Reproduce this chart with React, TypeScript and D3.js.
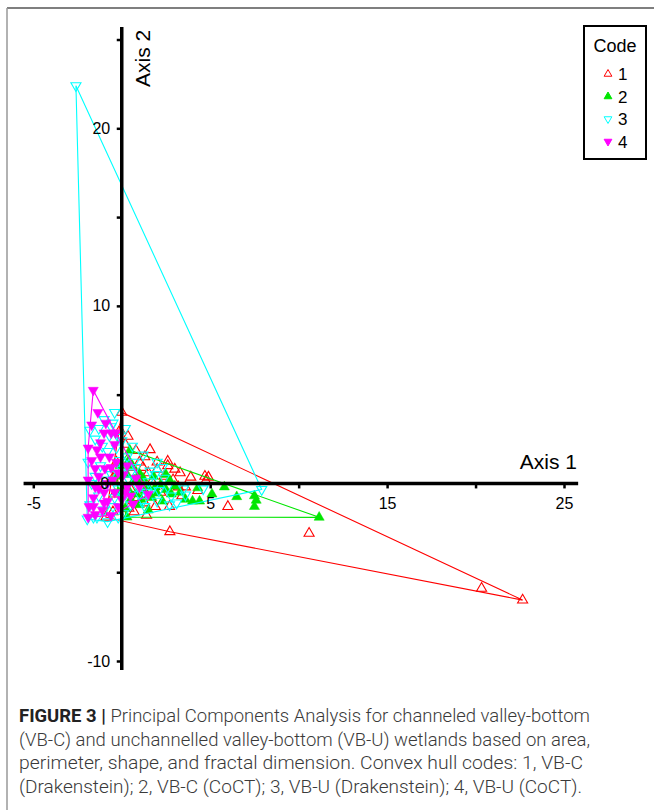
import * as d3 from 'd3';
import React, { useEffect, useRef } from 'react';

// PCA scores (Axis 1, Axis 2)
const code1Points: [number, number][] = [
  [0.0, 4.0], [0.35, 2.65], [0.8, 1.85], [1.3, 1.5], [2.0, 1.2], [2.6, 1.0], [2.6, 1.25],
  [3.0, 0.8], [3.3, 0.6], [3.9, 0.35], [4.7, 0.4], [4.9, 0.35], [4.75, 0.15], [3.6, -0.2],
  [2.4, 0.4], [1.5, 0.6], [1.9, -1.3], [2.7, -1.3], [6.0, -1.3], [2.72, -2.72], [10.59, -2.81],
  [20.34, -5.91], [22.66, -6.57], [0.6, 0.9], [1.1, 0.3], [1.7, 0.1], [2.2, -0.5], [0.9, -0.8],
  [0.4, -1.4], [-0.3, 1.2], [-0.5, 0.3], [-0.9, -1.9], [-0.5, -1.6], [1.4, -1.8], [0.2, 2.2],
  [-0.1, 3.0], [1.0, 1.2], [3.4, -0.7], [4.3, -0.4], [2.9, 0.2], [1.6, 1.9], [0.5, -0.3], [-0.4, -0.6],
  [1.2, 0.9], [2.0, 0.8], [3.2, -0.2], [1.3, -1.1], [0.7, -1.6],
];

const code2Points: [number, number][] = [
  [0.46, 1.87], [11.16, -1.91], [0.3, -1.9], [7.5, -0.7], [7.5, -1.3], [7.6, -0.95], [6.5, -0.75],
  [5.8, -0.2], [4.3, -0.25], [4.0, -1.0], [4.4, -1.0], [3.0, -0.15], [2.5, -0.35], [2.0, -0.55],
  [1.5, -0.2], [1.2, 0.3], [0.8, -0.6], [1.0, -1.2], [0.5, -0.9], [1.7, -0.8], [2.2, -0.05],
  [0.3, 0.5], [0.6, 1.0], [1.0, 0.55], [-0.2, -0.5], [-0.3, 0.4], [0.2, -1.4], [1.5, -1.5],
  [2.3, -1.0], [3.3, -0.5], [0.9, 0.1], [0.1, -0.2], [1.8, 0.4], [2.7, 0.2], [0.4, 1.3],
  [-0.1, 1.0], [3.6, -0.9], [5.1, -0.6], [0.7, 0.2], [1.3, -0.4], [2.8, -0.6], [0.4, -0.4],
  [1.9, -0.2], [1.1, -0.9], [2.5, 0.5],
];

const code3Points: [number, number][] = [
  [-2.59, 22.4], [7.91, -0.34], [-1.95, -2.0], [-0.8, -2.15], [-0.4, 4.0], [-0.5, 3.4], [-0.2, 2.6],
  [2.0, 1.2], [2.3, 0.9], [3.5, -0.3], [4.6, -0.3], [2.8, -0.7], [2.7, -1.2], [2.0, -1.0],
  [3.6, -0.65], [1.4, -0.5], [0.1, -1.7], [-1.6, -1.9], [-1.2, 1.0], [-1.5, 2.5], [-1.0, 3.6],
  [-0.8, 1.8], [-1.7, 0.0], [-1.3, -0.7], [-0.6, 0.5], [-0.2, -0.3], [0.4, 0.2], [0.8, 0.9],
  [1.2, 1.6], [0.3, 1.5], [-0.3, 2.0], [1.5, 0.1], [1.0, -0.6], [0.5, -1.2], [-0.5, -1.3],
  [-1.0, -1.5], [-1.8, -1.2], [-1.9, 1.2], [-1.8, 3.0], [-1.3, 3.1], [0.2, 3.1], [-0.7, 2.7],
  [0.6, 2.1], [1.8, -0.2], [2.4, 0.3], [-1.4, -1.9], [0.0, 0.8], [-0.9, 0.2], [1.2, -1.0],
  [3.1, -1.1], [-0.2, -1.9], [0.7, 1.2], [1.6, 0.7], [2.1, -0.4], [0.9, -0.2], [1.3, -1.3],
  [0.2, -0.6], [-0.1, 1.3], [0.5, 0.6], [1.9, 0.5], [2.6, -0.2], [-0.4, -0.8], [-1.1, -0.2],
  [-1.5, 0.4], [-1.1, 2.1], [0.0, 2.4], [-0.6, 3.2],
];

const code4Points: [number, number][] = [
  [-1.61, 5.25], [-1.35, 4.0], [-1.9, 2.0], [-1.0, 2.85], [-0.6, 2.85], [-0.35, 2.85], [-1.5, 0.85],
  [-0.95, 0.85], [-0.5, 0.2], [-1.85, -1.3], [-1.1, -1.5], [0.65, -1.15], [-1.9, -1.9], [-1.5, -1.75],
  [-1.2, 1.5], [-0.7, 1.5], [-1.7, 1.3], [-1.3, -0.3], [-0.4, -0.5], [0.3, -0.2], [0.8, 0.3],
  [-0.8, -1.0], [-1.6, -0.8], [-1.9, 0.2], [0.3, 1.0], [1.0, -0.2], [-0.2, -1.3], [-0.6, -1.8],
  [0.1, 0.5], [-1.2, 2.3], [-0.4, 2.2], [-1.5, -0.2], [-0.8, 0.0], [0.5, -0.7], [-1.7, 3.3],
  [1.5, -0.6], [-1.0, -0.5], [0.0, -0.9], [-1.3, 0.4], [-0.3, 1.2], [-0.9, 3.4], [-1.4, 1.9],
  [-0.6, 0.9], [0.2, -0.5], [-1.0, -1.1], [-1.6, -1.3], [-0.2, 0.6],
];

const codeNames = ['1', '2', '3', '4'];
const codeColors = ['#ff0000', '#00e600', '#00ffff', '#ff00ff'];

const xTicks = [-5, 0, 5, 10, 15, 20, 25];
const xTickLabels = [-5, 5, 15, 25];
const yTicks = [-10, -5, 0, 5, 10, 15, 20, 25];
const yTickLabels = [-10, 10, 20];

const captionLines = [
  'Principal Components Analysis for channeled valley-bottom',
  '(VB-C) and unchannelled valley-bottom (VB-U) wetlands based on area,',
  'perimeter, shape, and fractal dimension. Convex hull codes: 1, VB-C',
  '(Drakenstein); 2, VB-C (CoCT); 3, VB-U (Drakenstein); 4, VB-U (CoCT).',
];

export default function App() {
  const ref = useRef<SVGSVGElement>(null);

  useEffect(() => {
    const width = 654;
    const height = 810;
    const svg = d3.select(ref.current).attr('width', width).attr('height', height);
    svg.selectAll('*').remove();

    const font = "'Liberation Sans', Arial, sans-serif";

    // page frame
    svg.append('line').attr('x1', 7).attr('x2', width).attr('y1', 8).attr('y2', 8)
      .attr('stroke', '#555').attr('stroke-width', 1.5);
    svg.append('line').attr('x1', 7).attr('x2', 7).attr('y1', 8).attr('y2', height)
      .attr('stroke', '#999').attr('stroke-width', 1.5);

    const x = d3.scaleLinear().domain([-5, 25]).range([33.3, 564]);
    const y = d3.scaleLinear().domain([-10, 20]).range([661, 128.3]);

    const series = [code1Points, code2Points, code3Points, code4Points];
    const filled = [false, true, false, true];
    const down = [false, false, true, true];

    const sym = d3.symbol().type(d3.symbolTriangle);

    // hulls + points
    series.forEach((pts, i) => {
      const g = svg.append('g');
      const scaled = pts.map((p) => [x(p[0]), y(p[1])] as [number, number]);
      const hull = d3.polygonHull(scaled);
      if (hull) {
        g.append('path')
          .attr('d', 'M' + hull.map((p) => p.join(',')).join('L') + 'Z')
          .attr('fill', 'none')
          .attr('stroke', codeColors[i])
          .attr('stroke-width', 1.1);
      }
      g.selectAll('path.pt')
        .data(scaled)
        .enter()
        .append('path')
        .attr('class', 'pt')
        .attr('d', sym.size(44)())
        .attr('transform', (d) => `translate(${d[0]},${d[1]})${down[i] ? ' rotate(180)' : ''}`)
        .attr('fill', filled[i] ? codeColors[i] : 'none')
        .attr('stroke', codeColors[i])
        .attr('stroke-width', filled[i] ? 0.5 : 1.1);
    });

    // axes
    const x0 = y(0);
    const y0 = x(0);

    const xg = svg.append('g').attr('transform', `translate(0,${x0})`)
      .call(d3.axisBottom(x).tickValues(xTicks).tickSize(5).tickPadding(9.5)
        .tickFormat((d) => (xTickLabels.includes(d as number) ? String(d) : '')));
    xg.select('.domain').remove();
    xg.selectAll('line').attr('stroke', '#000').attr('stroke-width', 2.5);
    xg.selectAll('text').attr('font-family', font).attr('font-size', 16).attr('fill', '#000');

    const yg = svg.append('g').attr('transform', `translate(${y0},0)`)
      .call(d3.axisLeft(y).tickValues(yTicks).tickSize(5).tickPadding(6.5)
        .tickFormat((d) => (yTickLabels.includes(d as number) ? String(d) : '')));
    yg.select('.domain').remove();
    yg.selectAll('line').attr('stroke', '#000').attr('stroke-width', 2.5);
    yg.selectAll('text').attr('font-family', font).attr('font-size', 16).attr('fill', '#000');

    svg.append('line')
      .attr('x1', x(-5.55)).attr('x2', x(25.8)).attr('y1', x0).attr('y2', x0)
      .attr('stroke', '#000').attr('stroke-width', 3.5);
    svg.append('line')
      .attr('x1', y0).attr('x2', y0).attr('y1', y(25.7)).attr('y2', y(-10.5))
      .attr('stroke', '#000').attr('stroke-width', 3.5);

    svg.append('text')
      .attr('x', y0 - 12.5).attr('y', x0).attr('dy', '0.34em')
      .attr('text-anchor', 'end').attr('font-family', font).attr('font-size', 16)
      .text('0');

    svg.append('text')
      .attr('x', 577).attr('y', 469).attr('text-anchor', 'end')
      .attr('font-family', font).attr('font-size', 21).text('Axis 1');
    svg.append('text')
      .attr('transform', 'translate(150,87) rotate(-90)')
      .attr('font-family', font).attr('font-size', 21).text('Axis 2');

    // legend
    const lg = svg.append('g');
    lg.append('rect').attr('x', 584).attr('y', 26).attr('width', 62).attr('height', 133)
      .attr('fill', '#fff').attr('stroke', '#000').attr('stroke-width', 2);
    lg.append('text').attr('x', 615).attr('y', 52).attr('text-anchor', 'middle')
      .attr('font-family', font).attr('font-size', 18).text('Code');
    codeNames.forEach((name, i) => {
      const cy = 74 + i * 22.5;
      lg.append('path')
        .attr('d', sym.size(26)())
        .attr('transform', `translate(608,${cy})${down[i] ? ' rotate(180)' : ''}`)
        .attr('fill', filled[i] ? codeColors[i] : 'none')
        .attr('stroke', codeColors[i])
        .attr('stroke-width', 1);
      lg.append('text').attr('x', 618).attr('y', cy).attr('dy', '0.36em')
        .attr('font-family', font).attr('font-size', 17).text(name);
    });

    // caption
    const cap = svg.append('g').attr('font-family', "Roboto, 'Liberation Sans', sans-serif")
      .attr('font-size', 19).attr('fill', '#3a3a3a');
    const lens = [571, 571, 564, 563];
    captionLines.forEach((line, i) => {
      const t = cap.append('text').attr('x', 19).attr('y', 722 + i * 23.5)
        .attr('textLength', lens[i]).attr('lengthAdjust', 'spacingAndGlyphs');
      if (i === 0) {
        t.append('tspan').attr('font-weight', 700).attr('fill', '#222').text('FIGURE 3 | ');
      }
      t.append('tspan').attr('font-weight', 300).text(line);
    });
  }, []);

  return (
    <div style={{ position: 'absolute', left: 0, top: 0 }}>
      <svg ref={ref}></svg>
    </div>
  );
}
